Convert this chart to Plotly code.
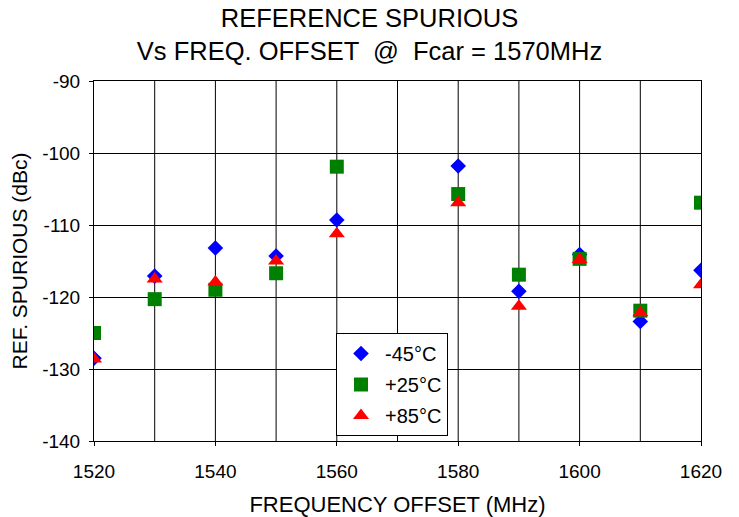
import plotly.graph_objects as go

freq = [1520, 1530, 1540, 1550, 1560, 1580, 1590, 1600, 1610, 1620]
m45 = [-128.5, -117.1, -113.2, -114.3, -109.3, -101.8, -119.2, -114.1, -123.4, -116.3]
p25 = [-125.0, -120.3, -119.0, -116.7, -101.9, -105.7, -116.9, -114.7, -121.9, -106.9]
p85 = [-128.6, -117.5, -117.9, -115.0, -111.2, -106.9, -121.3, -114.8, -122.2, -118.3]

y_ticks = [-140, -130, -120, -110, -100, -90]
y_tick_text = ["-140", "-130", "-120", "-110", "-100", "-90"]
x_ticks = [1520, 1540, 1560, 1580, 1600, 1620]

names = ["-45°C", "+25°C", "+85°C"]
font = "Liberation Sans, Arial, Helvetica, sans-serif"

fig = go.Figure()
fig.add_trace(go.Scatter(x=freq, y=m45, mode="markers", name=names[0], legendgroup="a",
                         marker=dict(symbol="diamond", size=12, color="#0000FF")))
fig.add_trace(go.Scatter(x=freq, y=p25, mode="markers", name=names[1], legendgroup="b",
                         marker=dict(symbol="square", size=14, color="#008000")))
fig.add_trace(go.Scatter(x=freq, y=p85, mode="markers", name=names[2], legendgroup="c",
                         marker=dict(symbol="triangle-up", size=14, color="#FF0000")))

fig.update_layout(
    width=739, height=517,
    margin=dict(l=94, r=38, t=81, b=76),
    paper_bgcolor="white", plot_bgcolor="white",
    font=dict(family=font, size=19, color="black"),
    title=dict(text="REFERENCE SPURIOUS<br>Vs FREQ. OFFSET  @  Fcar = 1570MHz",
               x=0.5, xanchor="center", y=1 - 27 / 517, yanchor="middle",
               font=dict(size=25.5, family=font)),
    xaxis=dict(range=[1520, 1620], tickvals=x_ticks, showgrid=False, automargin=False,
               showline=True, linecolor="black", linewidth=1, mirror=True,
               ticks="outside", ticklen=4, tickcolor="black", ticklabelstandoff=9,
               title=dict(text="FREQUENCY OFFSET (MHz)", font=dict(size=22), standoff=18),
               zeroline=False),
    yaxis=dict(range=[-140, -90], tickvals=y_ticks, ticktext=y_tick_text, automargin=False,
               showgrid=True, gridcolor="black", gridwidth=1,
               showline=True, linecolor="black", linewidth=1, mirror=True,
               ticks="outside", ticklen=4, tickcolor="black", ticklabelstandoff=5,
               title=dict(text="REF. SPURIOUS (dBc)", font=dict(size=21), standoff=8),
               zeroline=False),
    legend=dict(x=(336 - 94) / 607, y=(441 - 333) / 360, xanchor="left", yanchor="top",
                bgcolor="white", bordercolor="black", borderwidth=1,
                font=dict(size=20, family=font), itemwidth=38,
                tracegroupgap=2),
    showlegend=True,
)
# vertical grid lines every 10 MHz
for f in range(1530, 1620, 10):
    fig.add_vline(x=f, line=dict(color="black", width=1), layer="below")

fig.write_html("out.html", post_script="document.body.style.margin='0';",
               config={"displayModeBar": False})
